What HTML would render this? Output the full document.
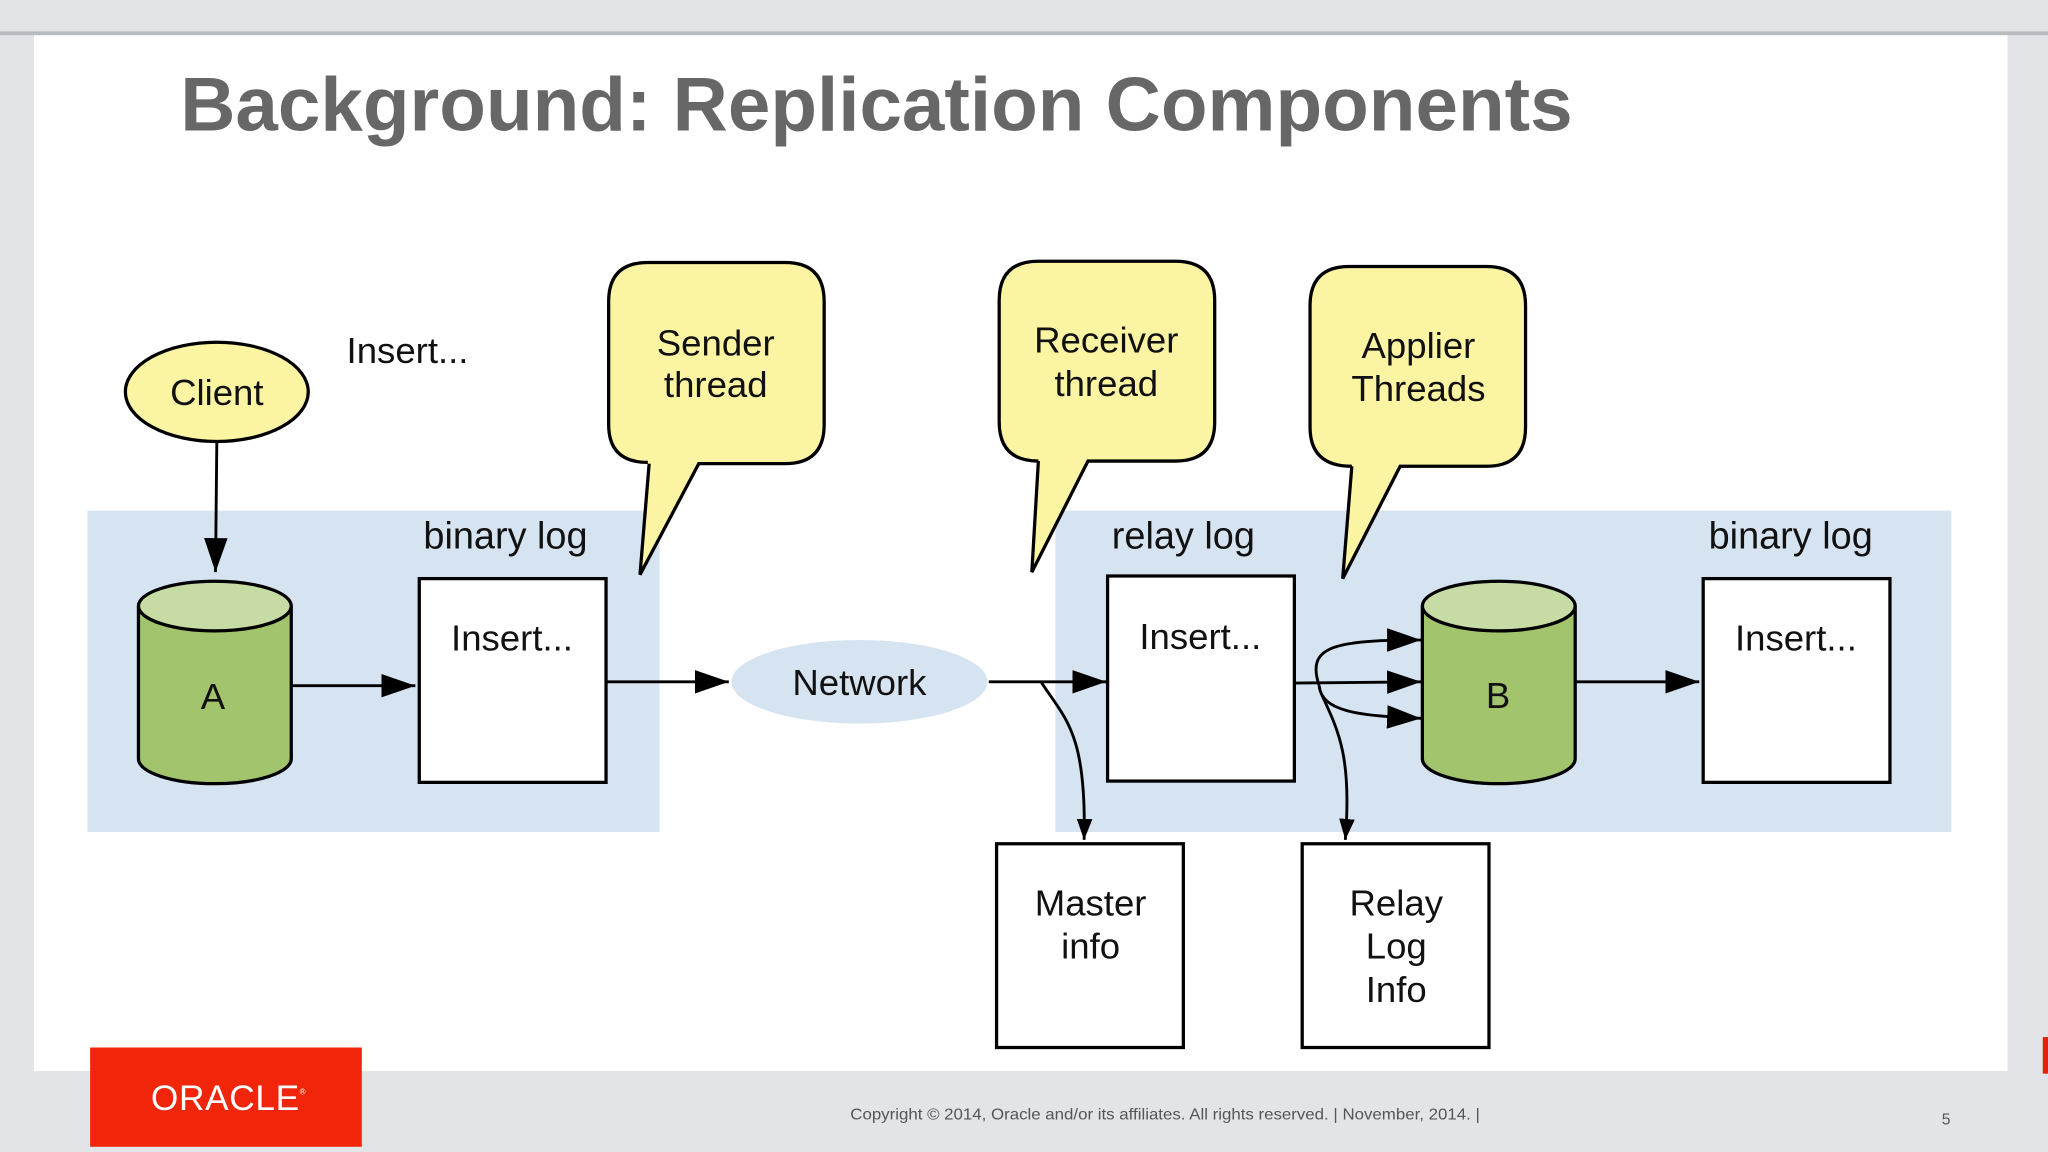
<!DOCTYPE html>
<html><head><meta charset="utf-8"><style>
html,body{margin:0;padding:0;background:#e2e4e8;}
svg{display:block;}
</style></head><body>
<svg width="2048" height="1152" viewBox="0 0 1568 882" xmlns="http://www.w3.org/2000/svg" font-family="Liberation Sans, sans-serif">
<defs>
<marker id="ah" viewBox="0 0 10 10" refX="10" refY="5" markerWidth="16" markerHeight="12" markerUnits="userSpaceOnUse" orient="auto" preserveAspectRatio="none">
<path d="M0,0 L10,5 L0,10 z" fill="#000"/></marker>
<marker id="ab" viewBox="0 0 10 10" refX="10" refY="5" markerWidth="26" markerHeight="18" markerUnits="userSpaceOnUse" orient="auto" preserveAspectRatio="none">
<path d="M0,0 L10,5 L0,10 z" fill="#000"/></marker>
</defs>
<rect x="0" y="0" width="1568" height="882" fill="#e2e4e8"/>
<rect x="0" y="24" width="1568" height="3" fill="#b8bbc0"/>
<rect x="26" y="27" width="1511" height="793" fill="#fff"/>
<rect x="1564" y="794" width="4" height="28" fill="#e0220a"/>
<text x="138" y="100" font-size="58" font-weight="bold" fill="#676767" textLength="1066" lengthAdjust="spacingAndGlyphs">Background: Replication Components</text>

<rect x="67" y="391" width="438" height="246" fill="#d6e4f2"/>
<rect x="808" y="391" width="686" height="246" fill="#d6e4f2"/>

<g stroke="#000" stroke-width="2.5" fill="#fbf4a2">
<path d="M496,354 Q466,354 466,325 L466,231 Q466,201 496,201 L601,201 Q631,201 631,231 L631,325 Q631,355 601,355 L535,355 L490,440 L497,355"/>
<path d="M795,353 Q765,353 765,323 L765,230 Q765,200 795,200 L900,200 Q930,200 930,230 L930,323 Q930,353 900,353 L833,353 L790,438 L795,353"/>
<path d="M1035,357 Q1003,357 1003,327 L1003,234 Q1003,204 1033,204 L1138,204 Q1168,204 1168,234 L1168,327 Q1168,357 1138,357 L1072,357 L1028,443 L1035,357"/>
<ellipse cx="166" cy="300" rx="70" ry="38"/>
</g>
<g font-size="28" text-anchor="middle" fill="#111">
<text x="548" y="272">Sender</text><text x="548" y="304">thread</text>
<text x="847" y="270">Receiver</text><text x="847" y="303">thread</text>
<text x="1086" y="274">Applier</text><text x="1086" y="307">Threads</text>
<text x="166" y="310">Client</text>
<text x="312" y="278">Insert...</text>
<text x="387" y="420" font-size="29">binary log</text>
<text x="906" y="420" font-size="29">relay log</text>
<text x="1371" y="420" font-size="29">binary log</text>
</g>

<ellipse cx="658" cy="522" rx="98" ry="32" fill="#d6e4f2"/>
<text x="658" y="532" font-size="28" text-anchor="middle" fill="#111">Network</text>

<g stroke="#000" stroke-width="2.5">
<path d="M106,464 L106,581 A58.5,19 0 0 0 223,581 L223,464" fill="#a2c46c"/>
<ellipse cx="164.5" cy="464" rx="58.5" ry="19" fill="#c6dca4"/>
<path d="M1089,464 L1089,581 A58.5,19 0 0 0 1206,581 L1206,464" fill="#a2c46c"/>
<ellipse cx="1147.5" cy="464" rx="58.5" ry="19" fill="#c6dca4"/>
<g fill="#fff">
<rect x="321" y="443" width="143" height="156"/>
<rect x="848" y="441" width="143" height="157"/>
<rect x="1304" y="443" width="143" height="156"/>
<rect x="763" y="646" width="143" height="156"/>
<rect x="997" y="646" width="143" height="156"/>
</g>
</g>
<g font-size="28" text-anchor="middle" fill="#111">
<text x="163" y="543">A</text>
<text x="1147" y="542">B</text>
<text x="392" y="498">Insert...</text>
<text x="919" y="497">Insert...</text>
<text x="1375" y="498">Insert...</text>
<text x="835" y="701">Master</text><text x="835" y="734">info</text>
<text x="1069" y="701">Relay</text><text x="1069" y="734">Log</text><text x="1069" y="767">Info</text>
</g>

<g stroke="#000" stroke-width="2.2" fill="none" marker-end="url(#ab)">
<path d="M166,338 L165,438"/>
<path d="M223,525 L318,525"/>
<path d="M464,522 L558,522"/>
<path d="M757,522 L847,522"/>
<path d="M1206,522 L1301,522"/>
<path d="M991,523 L1088,522"/>
<path d="M1010,525 C1000,495 1020,490 1088,490"/>
<path d="M1010,525 C1012,545 1040,548 1088,550"/>
</g>
<g stroke="#000" stroke-width="2.2" fill="none" marker-end="url(#ah)">
<path d="M797,522 C815,550 832,560 830,643"/>
<path d="M1012,532 C1025,560 1035,580 1030,643"/>
</g>

<rect x="69" y="802" width="208" height="76" fill="#f0250a"/>
<text x="175" y="850" font-size="27" text-anchor="middle" fill="#fff" letter-spacing="0.5" transform="translate(175 0) scale(1 1) translate(-175 0)">ORACLE<tspan font-size="6" dy="-12">®</tspan></text>
<text x="892" y="857" font-size="12" text-anchor="middle" fill="#555" textLength="482" lengthAdjust="spacingAndGlyphs">Copyright © 2014, Oracle and/or its affiliates. All rights reserved. | November, 2014. |</text>
<text x="1490" y="861" font-size="12" text-anchor="middle" fill="#555">5</text>
</svg>
</body></html>
